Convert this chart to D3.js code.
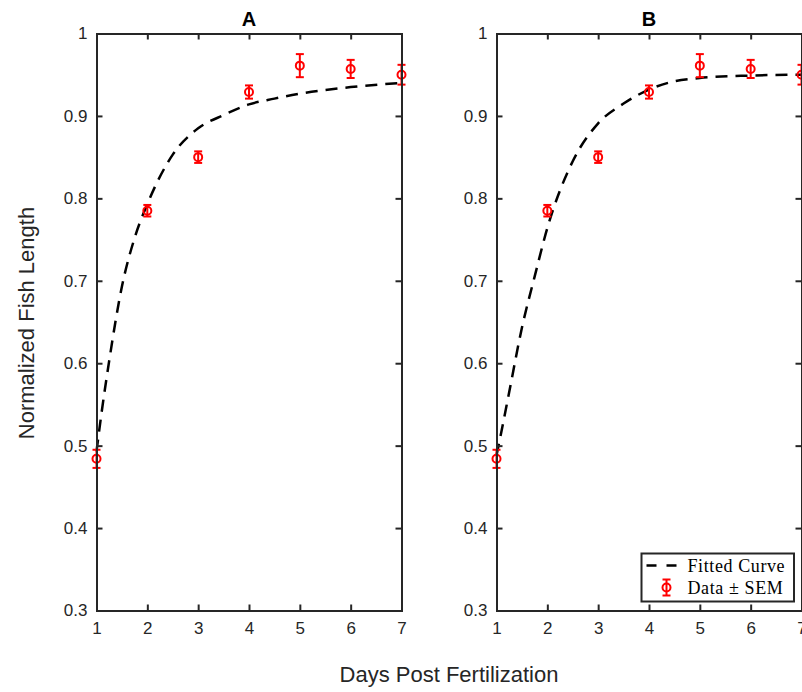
<!DOCTYPE html>
<html>
<head>
<meta charset="utf-8">
<script src="https://cdn.jsdelivr.net/npm/d3@7"></script>
<style>
  body { margin: 0; background: #fff; }
  text { font-family: "Liberation Sans", Arial, sans-serif; fill: #262626; }
</style>
</head>
<body>
<div id="chart"></div>
<script>
// measured data (same points in both panels)
var days = [1, 2, 3, 4, 5, 6, 7];
var meanLength = [0.484, 0.785, 0.850, 0.929, 0.961, 0.957, 0.950];
var semLength = [0.011, 0.007, 0.007, 0.008, 0.014, 0.011, 0.012];

// fitted curves
var fitDays = [1, 1.1, 1.25, 1.5, 1.75, 2, 2.5, 3, 3.5, 4, 4.5, 5, 6, 7];
var fitA = [0.493, 0.540, 0.603, 0.693, 0.752, 0.793, 0.853, 0.885, 0.901, 0.914, 0.921, 0.927, 0.935, 0.940];
var fitB = [0.488, 0.518, 0.565, 0.643, 0.705, 0.764, 0.845, 0.891, 0.915, 0.932, 0.942, 0.946, 0.949, 0.950];

var panelTitles = ["A", "B"];
var xTicks = [1, 2, 3, 4, 5, 6, 7];
var yTicks = [0.3, 0.4, 0.5, 0.6, 0.7, 0.8, 0.9, 1];
var legendLabels = ["Fitted Curve", "Data \u00b1 SEM"];

var W = 802, H = 692;
var plotTop = 33.5, plotBottom = 610.5, pw = 305;
var lefts = [96.5, 496.5];
var axisColor = "#262626";

var svg = d3.select("#chart").append("svg")
    .attr("width", W)
    .attr("height", H);

var y = d3.scaleLinear().domain([0.3, 1]).range([plotBottom, plotTop]);

function drawPanel(left, title, fit, withLegend) {
  var x = d3.scaleLinear().domain([1, 7]).range([left, left + pw]);
  var g = svg.append("g");

  // fitted curve
  var line = d3.line()
      .x(function(d) { return x(d[0]); })
      .y(function(d) { return y(d[1]); })
      .curve(d3.curveMonotoneX);
  g.append("path")
    .datum(d3.zip(fitDays, fit))
    .attr("d", line)
    .attr("fill", "none")
    .attr("stroke", "#000")
    .attr("stroke-width", 2.5)
    .attr("stroke-dasharray", "12,8");

  // error bars
  var pts = g.selectAll(".pt")
    .data(d3.zip(days, meanLength, semLength))
    .enter().append("g").attr("class", "pt");
  pts.append("line")
    .attr("x1", function(d) { return x(d[0]); })
    .attr("x2", function(d) { return x(d[0]); })
    .attr("y1", function(d) { return y(d[1] - d[2]); })
    .attr("y2", function(d) { return y(d[1] + d[2]); });
  pts.append("line")
    .attr("x1", function(d) { return x(d[0]) - 4; })
    .attr("x2", function(d) { return x(d[0]) + 4; })
    .attr("y1", function(d) { return y(d[1] + d[2]); })
    .attr("y2", function(d) { return y(d[1] + d[2]); });
  pts.append("line")
    .attr("x1", function(d) { return x(d[0]) - 4; })
    .attr("x2", function(d) { return x(d[0]) + 4; })
    .attr("y1", function(d) { return y(d[1] - d[2]); })
    .attr("y2", function(d) { return y(d[1] - d[2]); });
  pts.selectAll("line").attr("stroke", "#ff0000").attr("stroke-width", 2);
  pts.append("circle")
    .attr("cx", function(d) { return x(d[0]); })
    .attr("cy", function(d) { return y(d[1]); })
    .attr("r", 4)
    .attr("fill", "none")
    .attr("stroke", "#ff0000")
    .attr("stroke-width", 2);

  // axes (box with inward ticks)
  var tl = 6;
  var xAxis = d3.axisBottom(x).tickValues(xTicks).tickSize(-tl).tickPadding(11).tickFormat(d3.format("d"));
  var xAxisTop = d3.axisTop(x).tickValues(xTicks).tickSize(-tl).tickFormat("");
  var yAxis = d3.axisLeft(y).tickValues(yTicks).tickSize(-tl).tickPadding(9).tickFormat(function(d) { return d === 1 ? "1" : d3.format(".1f")(d); });
  var yAxisRight = d3.axisRight(y).tickValues(yTicks).tickSize(-tl).tickFormat("");

  var axes = [
    g.append("g").attr("transform", "translate(0," + plotBottom + ")").call(xAxis),
    g.append("g").attr("transform", "translate(0," + plotTop + ")").call(xAxisTop),
    g.append("g").attr("transform", "translate(" + left + ",0)").call(yAxis),
    g.append("g").attr("transform", "translate(" + (left + pw) + ",0)").call(yAxisRight)
  ];
  axes.forEach(function(a) {
    a.attr("font-size", null).attr("font-family", null);
    a.select(".domain").attr("stroke", axisColor).attr("stroke-width", 2);
    a.selectAll(".tick line").attr("stroke", axisColor).attr("stroke-width", 2);
    a.selectAll(".tick text").attr("fill", axisColor).style("font-size", "17px");
  });

  g.append("text")
    .attr("x", left + pw / 2)
    .attr("y", 26)
    .attr("text-anchor", "middle")
    .style("font-size", "20px")
    .style("font-weight", "bold")
    .style("fill", "#000")
    .text(title);

  if (withLegend) {
    var lg = g.append("g");
    var bx = 641.5, by = 553.5, bw = 152.5, bh = 48;
    lg.append("rect")
      .attr("x", bx).attr("y", by).attr("width", bw).attr("height", bh)
      .attr("fill", "#fff").attr("stroke", axisColor).attr("stroke-width", 2);
    lg.append("line")
      .attr("x1", bx + 5).attr("x2", bx + 35)
      .attr("y1", by + 12).attr("y2", by + 12)
      .attr("stroke", "#000").attr("stroke-width", 2.5)
      .attr("stroke-dasharray", "10,10");
    var ex = bx + 25, ey = by + 34;
    [[ex, ey - 8, ex, ey + 8], [ex - 4, ey - 8, ex + 4, ey - 8], [ex - 4, ey + 8, ex + 4, ey + 8]].forEach(function(s) {
      lg.append("line").attr("x1", s[0]).attr("y1", s[1]).attr("x2", s[2]).attr("y2", s[3])
        .attr("stroke", "#ff0000").attr("stroke-width", 2);
    });
    lg.append("circle").attr("cx", ex).attr("cy", ey).attr("r", 4)
      .attr("fill", "none").attr("stroke", "#ff0000").attr("stroke-width", 2);
    lg.selectAll(".lt")
      .data(legendLabels)
      .enter().append("text")
      .attr("x", bx + 46)
      .attr("y", function(d, i) { return by + 12 + i * 22; })
      .attr("dy", "0.35em")
      .style("font-family", "'Liberation Serif', 'DejaVu Serif', serif")
      .style("font-size", "18px")
      .style("letter-spacing", "0.6px")
      .style("fill", "#000")
      .text(function(d) { return d; });
  }
}

drawPanel(lefts[0], panelTitles[0], fitA, false);
drawPanel(lefts[1], panelTitles[1], fitB, true);

svg.append("text")
  .attr("transform", "translate(26," + 323 + ") rotate(-90)")
  .attr("text-anchor", "middle")
  .attr("dy", "0.35em")
  .style("font-size", "22px")
  .text("Normalized Fish Length");

svg.append("text")
  .attr("x", 449)
  .attr("y", 682)
  .attr("text-anchor", "middle")
  .style("font-size", "22px")
  .text("Days Post Fertilization");
</script>
</body>
</html>
